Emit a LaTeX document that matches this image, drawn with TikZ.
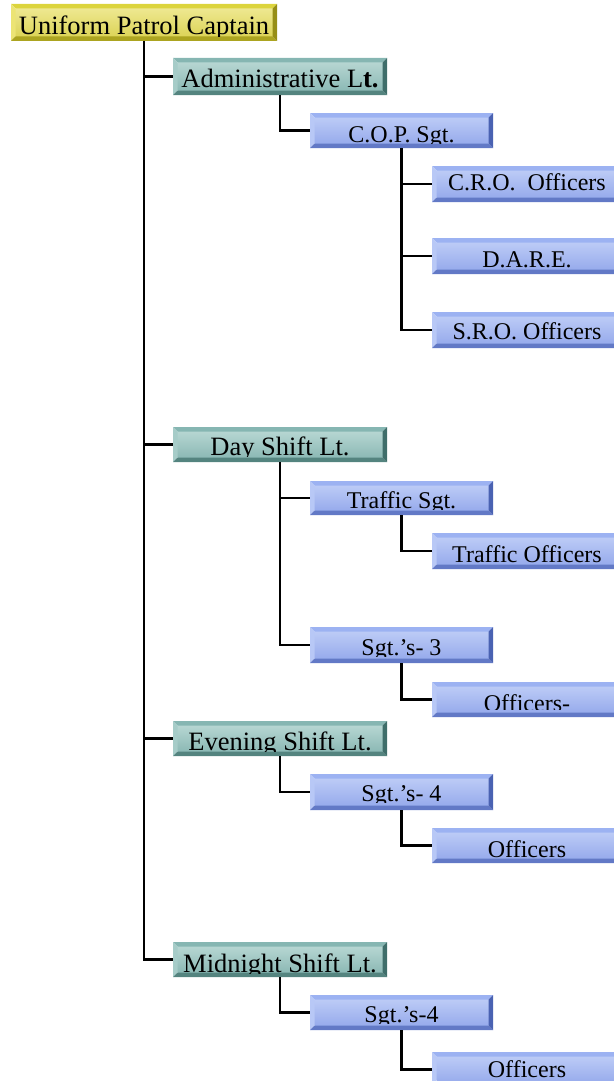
\documentclass[tikz,border=0pt]{standalone}
\usepackage{fontspec}
\setmainfont{Liberation Serif}
\definecolor{ytopc}{HTML}{DCD43C}
\definecolor{yleftc}{HTML}{ECE474}
\definecolor{ybotc}{HTML}{ACA420}
\definecolor{yrightc}{HTML}{968E16}
\definecolor{yfacet}{HTML}{EEE890}
\definecolor{yfacem}{HTML}{FCFCE8}
\definecolor{yfaceb}{HTML}{DCD458}
\definecolor{ttopc}{HTML}{86B6B2}
\definecolor{tleftc}{HTML}{A6CCC8}
\definecolor{tbotc}{HTML}{54847F}
\definecolor{trightc}{HTML}{3F6E6A}
\definecolor{tfacet}{HTML}{B6D6D2}
\definecolor{tfacem}{HTML}{F4F9F8}
\definecolor{tfaceb}{HTML}{8CB9B5}
\definecolor{btopc}{HTML}{9CB2F2}
\definecolor{bleftc}{HTML}{B8C8F6}
\definecolor{bbotc}{HTML}{6279C6}
\definecolor{brightc}{HTML}{4A62B2}
\definecolor{bfacet}{HTML}{BCCBF6}
\definecolor{bfacem}{HTML}{F6F8FE}
\definecolor{bfaceb}{HTML}{97ABEC}
\tikzset{
  x=1pt, y=-1pt,
  boxnode/.style={rectangle, draw=none, inner sep=0pt, outer sep=0pt},
  link/.style={line width=2.2pt, black},
  ytop/.style={fill=ytopc}, yleft/.style={fill=yleftc}, ybot/.style={fill=ybotc}, yright/.style={fill=yrightc},
  yface/.style={top color=yfacet, middle color=yfacem, bottom color=yfaceb},
  ytext/.style={font=\fontsize{26.5}{26.5}\selectfont, inner sep=0pt},
  ttop/.style={fill=ttopc}, tleft/.style={fill=tleftc}, tbot/.style={fill=tbotc}, tright/.style={fill=trightc},
  tface/.style={top color=tfacet, middle color=tfacem, bottom color=tfaceb},
  ttext/.style={font=\fontsize{26.5}{26.5}\selectfont, inner sep=0pt},
  btop/.style={fill=btopc}, bleft/.style={fill=bleftc}, bbot/.style={fill=bbotc}, bright/.style={fill=brightc},
  bface/.style={top color=bfacet, middle color=bfacem, bottom color=bfaceb},
  btext/.style={font=\fontsize{24}{24}\selectfont, inner sep=0pt},
}
\newcommand\bv{4.5pt}
% #1 name, #2 palette, #3 x, #4 y, #5 w, #6 h, #7 baseline offset, #8 clip offset, #9 text
\newcommand\orgbox[9]{%
  \node[boxnode, minimum width=#5pt, minimum height=#6pt, anchor=north west] (#1) at (#3,#4) {};
  \shade[#2face] ([xshift=\bv,yshift=-\bv]#1.north west) rectangle ([xshift=-\bv,yshift=\bv]#1.south east);
  \fill[#2top] (#1.north west) -- (#1.north east) -- ([xshift=-\bv,yshift=-\bv]#1.north east) -- ([xshift=\bv,yshift=-\bv]#1.north west) -- cycle;
  \fill[#2left] (#1.north west) -- ([xshift=\bv,yshift=-\bv]#1.north west) -- ([xshift=\bv,yshift=\bv]#1.south west) -- (#1.south west) -- cycle;
  \fill[#2bot] (#1.south west) -- ([xshift=\bv,yshift=\bv]#1.south west) -- ([xshift=-\bv,yshift=\bv]#1.south east) -- (#1.south east) -- cycle;
  \fill[#2right] (#1.north east) -- ([xshift=-\bv,yshift=-\bv]#1.north east) -- ([xshift=-\bv,yshift=\bv]#1.south east) -- (#1.south east) -- cycle;
  \begin{scope}
    \clip ([xshift=\bv,yshift=-\bv]#1.north west) rectangle ([xshift=-\bv,yshift=#8pt]#1.south east);
    \node[#2text, anchor=base] at ([yshift=#7pt]#1.south) {#9};
  \end{scope}%
}
\begin{document}
\begin{tikzpicture}
\useasboundingbox (0,0) rectangle (613,1081);

\orgbox{cap}{y}{11}{4}{266}{37}{6}{4.5}{Uniform Patrol Captain}
\orgbox{adm}{t}{173}{58}{214}{37}{8}{6.5}{Administrative L\textbf{t.}}
\orgbox{cop}{b}{310}{113}{183}{35}{6}{4.5}{C.O.P. Sgt.}
\orgbox{cro}{b}{432}{166}{190}{36}{12}{10.5}{C.R.O.\hspace{0.5em}Officers}
\orgbox{dare}{b}{432}{238}{190}{36}{7}{5.5}{D.A.R.E.}
\orgbox{sro}{b}{432}{312}{190}{36}{9}{7.5}{S.R.O. Officers}
\orgbox{day}{t}{173}{427}{214}{35}{7}{5.5}{Day Shift Lt.}
\orgbox{trs}{b}{310}{481}{183}{34}{7}{5.5}{Traffic Sgt.}
\orgbox{tro}{b}{432}{533}{190}{36}{7}{5.5}{Traffic Officers}
\orgbox{s3}{b}{310}{627}{183}{36}{8}{6.5}{Sgt.’s- 3}
\orgbox{o3}{b}{432}{682}{190}{35}{6}{8}{Officers-}
\orgbox{eve}{t}{173}{721}{214}{35}{6}{4.5}{Evening Shift Lt.}
\orgbox{s4}{b}{310}{774}{183}{36}{9}{7.5}{Sgt.’s- 4}
\orgbox{o4}{b}{432}{828}{190}{35}{6}{4.5}{Officers}
\orgbox{mid}{t}{173}{942}{214}{35}{5}{3.5}{Midnight Shift Lt.}
\orgbox{s4b}{b}{310}{995}{183}{35}{8}{6.5}{Sgt.’s-4}
\orgbox{o4b}{b}{432}{1052}{190}{35}{10}{8.5}{Officers}

% main trunk
\draw[link] (cap.south) |- (mid.west);
\draw[link] (cap.south |- adm.west) -- (adm.west);
\draw[link] (cap.south |- day.west) -- (day.west);
\draw[link] (cap.south |- eve.west) -- (eve.west);
% administrative
\draw[link] (adm.south) |- (cop.west);
\draw[link] (cop.south) |- (sro.west);
\draw[link] (cop.south |- cro.west) -- (cro.west);
\draw[link] (cop.south |- dare.west) -- (dare.west);
% day
\draw[link] (day.south) |- (s3.west);
\draw[link] (day.south |- trs.west) -- (trs.west);
\draw[link] (trs.south) |- (tro.west);
\draw[link] (s3.south) |- (o3.west);
% evening
\draw[link] (eve.south) |- (s4.west);
\draw[link] (s4.south) |- (o4.west);
% midnight
\draw[link] (mid.south) |- (s4b.west);
\draw[link] (s4b.south) |- (o4b.west);
\end{tikzpicture}
\end{document}
